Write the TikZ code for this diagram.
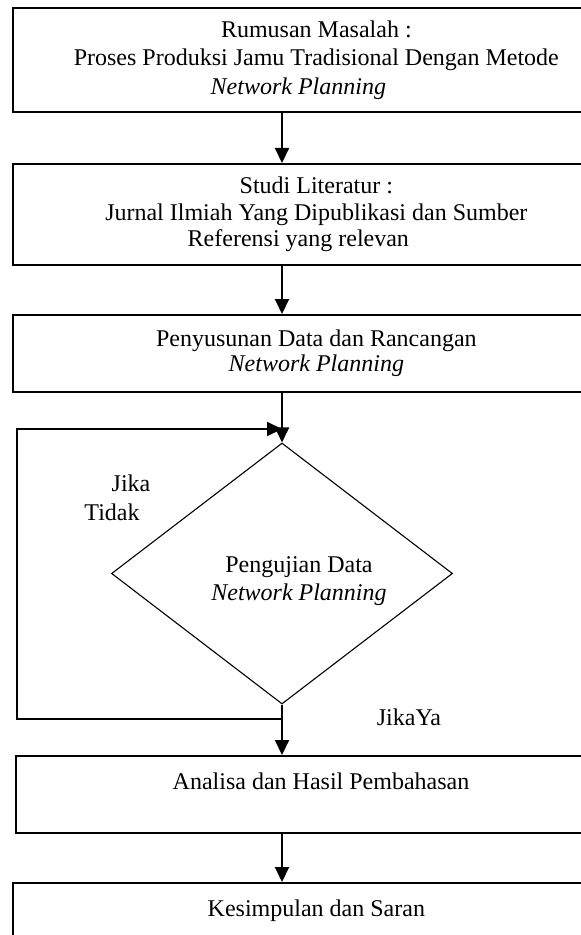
\documentclass[tikz,border=0pt]{standalone}
\usepackage{fontspec}
\setmainfont{Liberation Serif}
\usetikzlibrary{arrows.meta,shapes.geometric}
\begin{document}
\begin{tikzpicture}[x=0.5pt,y=-0.5pt,
  every node/.style={font=\fontsize{12pt}{13.8pt}\selectfont},
  procbox/.style={draw,line width=1pt,rectangle,minimum width=303.5pt,inner sep=0pt,align=center},
  decbox/.style={draw,line width=0.55pt,diamond,minimum width=170.5pt,minimum height=130.5pt,inner sep=0pt},
  flow/.style={line width=1pt,-{Triangle[length=7.5pt,width=7pt]}},
  lbl/.style={inner sep=0pt,align=center}]
\useasboundingbox (0,0) rectangle (581,935);
\fill[white] (0,0) rectangle (581,935);
\clip (0,0) rectangle (581,935);
\coordinate (ax) at (282,0);
% boxes
\node[procbox,minimum height=52pt,font=\fontsize{12pt}{14.25pt}\selectfont] (box1) at (316.35,60)
  {Rumusan Masalah :\\ Proses Produksi Jamu Tradisional Dengan Metode\\ \textit{Network Planning}\rule{18pt}{0pt}};
\node[procbox,minimum height=50.5pt,font=\fontsize{12pt}{13.25pt}\selectfont] (box2) at (316.35,214.5)
  {Studi Literatur :\\ Jurnal Ilmiah Yang Dipublikasi dan Sumber\\ Referensi yang relevan\rule{18pt}{0pt}};
\node[procbox,minimum height=38.5pt,font=\fontsize{12pt}{12.5pt}\selectfont] (box3) at (316.35,353.5)
  {Penyusunan Data dan Rancangan\\ \textit{Network Planning}};
\node[decbox] (dia) at (282,573.5) {};
\node[lbl,font=\fontsize{12pt}{14pt}\selectfont] (dtext) at (299,581) {Pengujian Data\\ \textit{Network Planning}};
\node[procbox,minimum width=305pt,minimum height=38.5pt] (box4) at (321,794.5)
  {Analisa dan Hasil Pembahasan\\ \mbox{}};
\node[procbox,minimum height=38.5pt] (box5) at (316.35,921.5)
  {Kesimpulan dan Saran\\ \mbox{}};
% labels
\node[lbl] (jika) at (131,483) {Jika};
\node[lbl] (tidak) at (112,512) {Tidak};
\node[lbl] (ya) at (409,717) {JikaYa};
% connectors
\draw[flow] (box1.south -| ax) -- (box2.north -| ax);
\draw[flow] (box2.south -| ax) -- (box3.north -| ax);
\draw[flow] (box3.south -| ax) -- (dia.north);
\draw[flow] (dia.south) -- (box4.north -| ax);
\draw[flow] (box4.south -| ax) -- (box5.north -| ax);
\coordinate (lj) at (282,719);
\coordinate (lb) at (17,719);
\coordinate (lt) at (17,429);
\coordinate (ltip) at (282,429);
\draw[flow] (lj) -- (lb) -- (lt) -- (ltip);
\end{tikzpicture}
\end{document}
